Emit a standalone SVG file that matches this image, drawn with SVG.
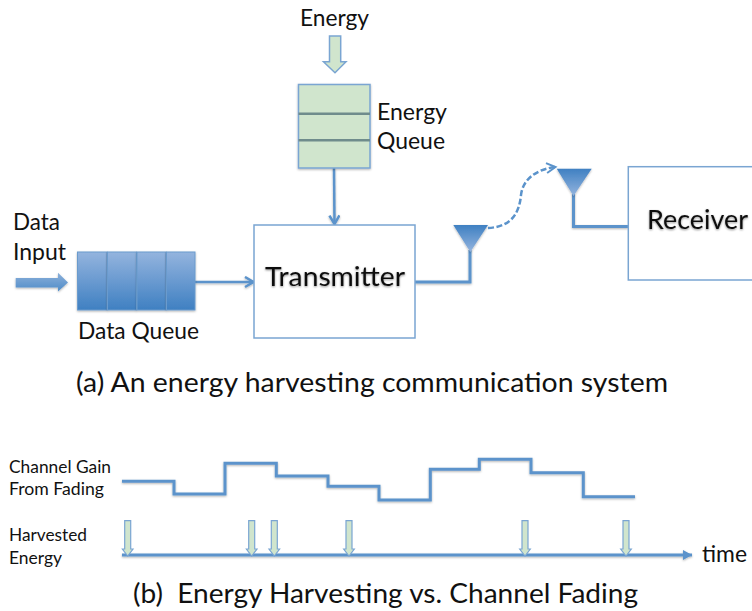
<svg xmlns="http://www.w3.org/2000/svg" width="752" height="611" viewBox="0 0 752 611">
<style>
text{font-family:"Lato","Carlito","Open Sans",sans-serif;fill:#111;font-size:23px}
.s{font-size:18px}
.c{font-size:27px}
.t{font-size:26.500px}
.box{fill:#fff;stroke:#7aa5d2;stroke-width:1.5}
.line{fill:none;stroke:#5b93cb;stroke-width:3;filter:url(#sh)}
.thin{fill:none;stroke:#5b93cb;stroke-width:2.5;filter:url(#sh)}
.g{fill:#d0e5cd;stroke:#7aa5d2;stroke-width:1.5}
.gs{fill:#d0e5cd;stroke:#7aa5d2;stroke-width:1.2}
.q{fill:url(#dq);stroke:#6b9bcd;stroke-width:1}
.ant{fill:url(#an);filter:url(#sh)}
.big{filter:url(#ts)}
</style>
<defs>
<linearGradient id="dq" x1="0" y1="0" x2="0" y2="1"><stop offset="0" stop-color="#94b4de"/><stop offset="1" stop-color="#3f80c2"/></linearGradient>
<linearGradient id="an" x1="0" y1="0" x2="0" y2="1"><stop offset="0" stop-color="#3f80c2"/><stop offset="1" stop-color="#94b4de"/></linearGradient>
<linearGradient id="da" x1="0" y1="0" x2="0" y2="1"><stop offset="0" stop-color="#8cb0da"/><stop offset="1" stop-color="#4f8cc8"/></linearGradient>
<filter id="sh" filterUnits="userSpaceOnUse" x="0" y="0" width="752" height="611"><feDropShadow dx="0" dy="1" stdDeviation="0.8" flood-color="#000" flood-opacity="0.3"/></filter>
<filter id="ts" filterUnits="userSpaceOnUse" x="0" y="0" width="752" height="611"><feDropShadow dx="0" dy="1" stdDeviation="1.2" flood-color="#000" flood-opacity="0.45"/></filter>
<marker id="ah" markerUnits="userSpaceOnUse" markerWidth="14" markerHeight="14" refX="9.500" refY="6" orient="auto"><path d="M1 1 L9.500 6 L1 11" fill="none" stroke="#5b93cb" stroke-width="2.500"/></marker>
<marker id="ad" markerUnits="userSpaceOnUse" markerWidth="14" markerHeight="14" refX="10" refY="6" orient="auto"><path d="M1 1 L10 6 L1 11" fill="none" stroke="#5b93cb" stroke-width="2"/></marker>
<marker id="at" markerUnits="userSpaceOnUse" markerWidth="14" markerHeight="14" refX="9" refY="6" orient="auto"><path d="M0 1 L9 6 L0 11 Z" fill="#5b93cb"/></marker>
</defs>

<g id="connectors">
<path class="thin" d="M334 168 L334.500 224" marker-end="url(#ah)"/>
<path class="thin" d="M195 282 H253.500" marker-end="url(#ah)"/>
<path class="line" d="M415 282 H470 V250"/>
<path class="line" d="M573.500 194 V226.500 H628"/>
<path fill="none" stroke="#5b93cb" stroke-width="2.500" stroke-dasharray="6 2.500" d="M488 228 C508 227 519 217 521 195 C523 178 538 169 555.500 167" marker-end="url(#ad)"/>
<path class="line" d="M122 481.300 H174 V494 H225 V463.300 H276.300 V476 H328 V486.300 H379 V500 H430.300 V469.300 H479.300 V459.300 H531 V472.700 H583.300 V496.700 H635"/>
<path class="line" d="M122 555 H692" marker-end="url(#at)"/>
</g>

<g id="energy-input">
<path class="g" d="M329.500 36 H340.700 V61.700 H346 L335 72.700 L323.500 61.700 H329.500 Z"/>
<text x="300" y="25.500" textLength="69" lengthAdjust="spacingAndGlyphs">Energy</text>
</g>

<g id="energy-queue">
<rect class="g" x="298.500" y="84.500" width="71.500" height="83.500" filter="url(#sh)"/>
<path d="M298.500 113.700 H370 M298.500 140.300 H370" fill="none" stroke="#6f8c8c" stroke-width="2.500"/>
<text x="377" y="119.500" textLength="70" lengthAdjust="spacingAndGlyphs">Energy</text>
<text x="377" y="148.500" textLength="68" lengthAdjust="spacingAndGlyphs">Queue</text>
</g>

<g id="data-input">
<path fill="url(#da)" filter="url(#sh)" d="M15.700 278 H58 V272.700 L68 282.500 L58 291.500 V287.500 H15.700 Z"/>
<text x="13" y="229.500" textLength="47" lengthAdjust="spacingAndGlyphs">Data</text>
<text x="13" y="259.500" textLength="53" lengthAdjust="spacingAndGlyphs">Input</text>
</g>

<g id="data-queue">
<rect class="q" x="77.500" y="252" width="29.500" height="58" filter="url(#sh)"/>
<rect class="q" x="107.500" y="252" width="29" height="58" filter="url(#sh)"/>
<rect class="q" x="137" y="252" width="29" height="58" filter="url(#sh)"/>
<rect class="q" x="166.500" y="252" width="28.500" height="58" filter="url(#sh)"/>
<text x="78" y="338.500" textLength="121" lengthAdjust="spacingAndGlyphs">Data Queue</text>
</g>

<g id="transmitter">
<rect class="box" x="254" y="225" width="161" height="113"/>
<text class="t big" x="265" y="285.500" textLength="140" lengthAdjust="spacingAndGlyphs">Transmitter</text>
</g>

<g id="antenna-tx"><path class="ant" d="M453.300 225 H488 L470.300 252 Z"/></g>
<g id="antenna-rx"><path class="ant" d="M556.700 168.700 H591.700 L573.500 196 Z"/></g>

<g id="receiver">
<rect class="box" x="628.300" y="166.700" width="130" height="113.300"/>
<text class="t big" x="647" y="229" textLength="101" lengthAdjust="spacingAndGlyphs">Receiver</text>
</g>

<text class="c" x="76" y="391.500" textLength="592" lengthAdjust="spacingAndGlyphs">(a) An energy harvesting communication system</text>

<g id="timeline-labels">
<text class="s" x="9" y="473" textLength="102" lengthAdjust="spacingAndGlyphs">Channel Gain</text>
<text class="s" x="9" y="495" textLength="95" lengthAdjust="spacingAndGlyphs">From Fading</text>
<text class="s" x="9" y="541" textLength="78" lengthAdjust="spacingAndGlyphs">Harvested</text>
<text class="s" x="9" y="564" textLength="53" lengthAdjust="spacingAndGlyphs">Energy</text>
<text x="702" y="562" textLength="45" lengthAdjust="spacingAndGlyphs">time</text>
</g>

<g id="harvest-arrows">
<path id="h1" class="gs" d="M124.700 520.700 H130.700 V549 H133 L127.700 556 L122.400 549 H124.700 Z"/>
<path id="h2" class="gs" d="M248.700 520.700 H254.700 V549 H257 L251.700 556 L246.400 549 H248.700 Z"/>
<path id="h3" class="gs" d="M271.300 520.700 H277.300 V549 H279.600 L274.300 556 L269 549 H271.300 Z"/>
<path id="h4" class="gs" d="M346 520.700 H352 V549 H354.300 L349 556 L343.700 549 H346 Z"/>
<path id="h5" class="gs" d="M522 520.700 H528 V549 H530.300 L525 556 L519.700 549 H522 Z"/>
<path id="h6" class="gs" d="M623 520.700 H629 V549 H631.300 L626 556 L620.700 549 H623 Z"/>
</g>

<text class="c" x="133" y="602.500" textLength="505" lengthAdjust="spacingAndGlyphs" xml:space="preserve">(b)  Energy Harvesting vs. Channel Fading</text>
</svg>
